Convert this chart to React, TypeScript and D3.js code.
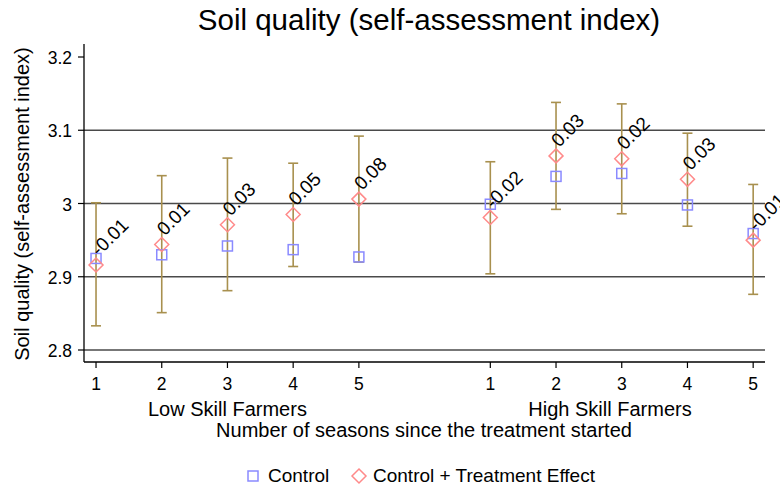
import { useEffect, useRef } from 'react';
import * as d3 from 'd3';

// seasons since treatment started, per group
const seasons = [1, 2, 3, 4, 5];
const groups = ['Low Skill Farmers', 'High Skill Farmers'];

// control means (square markers)
const controlLow = [2.925, 2.930, 2.942, 2.937, 2.927];
const controlHigh = [2.999, 3.037, 3.041, 2.998, 2.959];

// control + treatment effect (diamond markers)
const treatedLow = [2.916, 2.944, 2.971, 2.985, 3.006];
const treatedHigh = [2.981, 3.065, 3.061, 3.033, 2.950];

// confidence interval bounds
const ciLowerLow = [2.833, 2.851, 2.881, 2.914, 2.920];
const ciUpperLow = [3.001, 3.038, 3.062, 3.055, 3.092];
const ciLowerHigh = [2.904, 2.992, 2.986, 2.969, 2.876];
const ciUpperHigh = [3.057, 3.138, 3.136, 3.096, 3.026];

// treatment effect labels
const effectLow = ['-0.01', '0.01', '0.03', '0.05', '0.08'];
const effectHigh = ['-0.02', '0.03', '0.02', '0.03', '-0.01'];

const yTicks = [2.8, 2.9, 3.0, 3.1, 3.2];
const gridTicks = [2.8, 2.9, 3.0, 3.1];

export default function App() {
  const svgRef = useRef<SVGSVGElement>(null);

  useEffect(() => {
    if (!svgRef.current) return;
    const svg = d3.select(svgRef.current);
    svg.selectAll('*').remove();

    const width = 780;
    const height = 486;
    const left = 84;
    const right = 765;
    const top = 44;
    const bottom = 362;
    const font = '"Liberation Sans", Arial, sans-serif';

    const x = d3.scaleLinear().domain([0.817, 11.18]).range([left, right]);
    const y = d3.scaleLinear().domain([2.8, 3.2]).range([350, 57]);

    const errColor = '#a8904e';
    const ctrlColor = '#8a8aff';
    const trtColor = '#ff8a8a';

    svg.append('rect').attr('width', width).attr('height', height).attr('fill', '#fff');

    // Title
    svg.append('text')
      .attr('x', 429)
      .attr('y', 30)
      .attr('text-anchor', 'middle')
      .attr('font-family', font)
      .attr('font-size', 29.5)
      .text('Soil quality (self-assessment index)');

    // Gridlines
    svg.append('g')
      .selectAll('line')
      .data(gridTicks)
      .join('line')
      .attr('x1', left)
      .attr('x2', right)
      .attr('y1', d => y(d))
      .attr('y2', d => y(d))
      .attr('stroke', '#4a4a4a')
      .attr('stroke-width', 1.3);

    // Y axis
    svg.append('line')
      .attr('x1', left).attr('x2', left)
      .attr('y1', top).attr('y2', bottom)
      .attr('stroke', '#000').attr('stroke-width', 1.3);

    const yAxis = svg.append('g');
    yTicks.forEach(t => {
      yAxis.append('line')
        .attr('x1', left - 6).attr('x2', left)
        .attr('y1', y(t)).attr('y2', y(t))
        .attr('stroke', '#000').attr('stroke-width', 1.2);
      yAxis.append('text')
        .attr('x', 72)
        .attr('y', y(t) + 7)
        .attr('text-anchor', 'end')
        .attr('font-family', font)
        .attr('font-size', 17.5)
        .text(d3.format('~g')(t));
    });

    svg.append('text')
      .attr('transform', `translate(29,204) rotate(-90)`)
      .attr('text-anchor', 'middle')
      .attr('font-family', font)
      .attr('font-size', 20)
      .text('Soil quality (self-assessment index)');

    // X axis
    svg.append('line')
      .attr('x1', left).attr('x2', right)
      .attr('y1', bottom).attr('y2', bottom)
      .attr('stroke', '#000').attr('stroke-width', 1.3);

    const xAxis = svg.append('g');
    [0, 6].forEach(offset => {
      seasons.forEach(s => {
        const px = x(s + offset);
        xAxis.append('line')
          .attr('x1', px).attr('x2', px)
          .attr('y1', bottom).attr('y2', bottom + 6)
          .attr('stroke', '#000').attr('stroke-width', 1.2);
        xAxis.append('text')
          .attr('x', px)
          .attr('y', 390)
          .attr('text-anchor', 'middle')
          .attr('font-family', font)
          .attr('font-size', 17.5)
          .text(s);
      });
    });

    // Group labels
    [x(3), 610].forEach((gx, i) => {
      svg.append('text')
        .attr('x', gx)
        .attr('y', 416)
        .attr('text-anchor', 'middle')
        .attr('font-family', font)
        .attr('font-size', 20)
        .text(groups[i]);
    });

    svg.append('text')
      .attr('x', 424)
      .attr('y', 437)
      .attr('text-anchor', 'middle')
      .attr('font-family', font)
      .attr('font-size', 20)
      .text('Number of seasons since the treatment started');

    // Points
    const rows = [
      ...seasons.map((s, i) => ({
        pos: s, ctrl: controlLow[i], trt: treatedLow[i],
        lo: ciLowerLow[i], hi: ciUpperLow[i], label: effectLow[i],
      })),
      ...seasons.map((s, i) => ({
        pos: s + 6, ctrl: controlHigh[i], trt: treatedHigh[i],
        lo: ciLowerHigh[i], hi: ciUpperHigh[i], label: effectHigh[i],
      })),
    ];

    const g = svg.append('g');
    const capHalf = 5;

    rows.forEach(r => {
      const px = x(r.pos);
      g.append('line')
        .attr('x1', px).attr('x2', px)
        .attr('y1', y(r.lo)).attr('y2', y(r.hi))
        .attr('stroke', errColor).attr('stroke-width', 1.6);
      [r.lo, r.hi].forEach(v => {
        g.append('line')
          .attr('x1', px - capHalf).attr('x2', px + capHalf)
          .attr('y1', y(v)).attr('y2', y(v))
          .attr('stroke', errColor).attr('stroke-width', 1.6);
      });
    });

    rows.forEach(r => {
      const px = x(r.pos);
      g.append('rect')
        .attr('x', px - 5).attr('y', y(r.ctrl) - 5)
        .attr('width', 10).attr('height', 10)
        .attr('fill', 'none')
        .attr('stroke', ctrlColor).attr('stroke-width', 1.5);
      const py = y(r.trt);
      g.append('path')
        .attr('d', `M${px},${py - 7}L${px + 7},${py}L${px},${py + 7}L${px - 7},${py}Z`)
        .attr('fill', 'none')
        .attr('stroke', trtColor).attr('stroke-width', 1.5);
      g.append('text')
        .attr('transform', `translate(${px + 3},${py - 8}) rotate(-45)`)
        .attr('font-family', font)
        .attr('font-size', 19)
        .text(r.label);
    });

    // Legend
    const legY = 476;
    svg.append('rect')
      .attr('x', 248).attr('y', legY - 5)
      .attr('width', 10).attr('height', 10)
      .attr('fill', 'none')
      .attr('stroke', ctrlColor).attr('stroke-width', 1.5);
    svg.append('text')
      .attr('x', 268).attr('y', 482)
      .attr('font-family', font).attr('font-size', 19)
      .text('Control');
    svg.append('path')
      .attr('d', `M359,${legY - 7}L366,${legY}L359,${legY + 7}L352,${legY}Z`)
      .attr('fill', 'none')
      .attr('stroke', trtColor).attr('stroke-width', 1.5);
    svg.append('text')
      .attr('x', 373).attr('y', 482)
      .attr('font-family', font).attr('font-size', 19)
      .text('Control + Treatment Effect');
  }, []);

  return (
    <svg
      ref={svgRef}
      width={780}
      height={486}
      style={{ position: 'absolute', left: 0, top: 0 }}
    />
  );
}
